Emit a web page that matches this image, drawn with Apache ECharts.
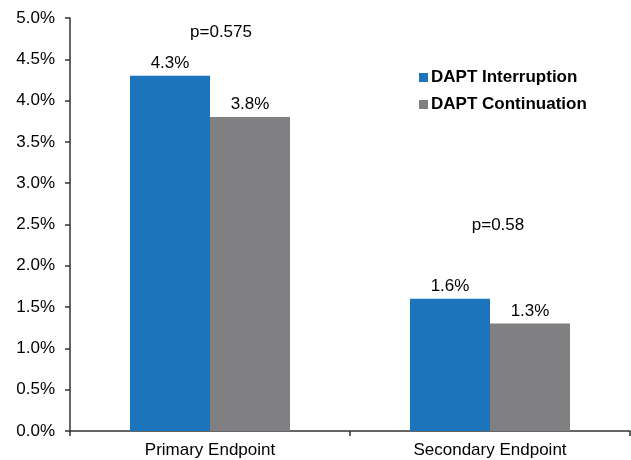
<!DOCTYPE html>
<html><head><meta charset="utf-8">
<script src="https://cdn.jsdelivr.net/npm/echarts@6/dist/echarts.min.js"></script>
<style>html,body{margin:0;padding:0;background:#fff}#c{width:631px;height:460px}</style>
</head><body><div id="c"></div>
<script>
var categories = ['Primary Endpoint', 'Secondary Endpoint'];
var interruption = [4.3, 1.6];
var continuation = [3.8, 1.3];
var pLabels = ['p=0.575', 'p=0.58'];
var pLabelY = [4.83, 2.49];
var yTicks = [0, 0.5, 1, 1.5, 2, 2.5, 3, 3.5, 4, 4.5, 5];

var font = 'Liberation Sans, Arial, sans-serif';
var chart = echarts.init(document.getElementById('c'));
chart.setOption({
  animation: false,
  grid: {left: 70, right: 1, top: 18, bottom: 29, containLabel: false},
  legend: {
    data: ['DAPT Interruption', 'DAPT Continuation'],
    orient: 'vertical', left: 414, top: 64,
    itemWidth: 9, itemHeight: 9, itemGap: 10, icon: 'rect',
    textStyle: {fontFamily: font, fontSize: 17, fontWeight: 'bold', color: '#000', padding: [0,0,0,-2]}
  },
  xAxis: {
    type: 'category', data: categories,
    axisLine: {lineStyle: {color: '#333', width: 1.5}},
    axisTick: {show: true, length: 5, lineStyle: {color: '#333', width: 1.5}},
    axisLabel: {fontFamily: font, fontSize: 17, color: '#000', margin: 11}
  },
  yAxis: {
    type: 'value', min: 0, max: 5, interval: 0.5,
    splitLine: {show: false},
    axisLine: {show: true, lineStyle: {color: '#333', width: 1.5}},
    axisTick: {show: true, length: 5, lineStyle: {color: '#333', width: 1.5}},
    axisLabel: {fontFamily: font, fontSize: 17, color: '#000', margin: 15,
      formatter: function(v){ return v.toFixed(1) + '%'; }}
  },
  series: [
    {name: 'DAPT Interruption', type: 'bar', data: interruption, barWidth: 80, barGap: '0%',
      itemStyle: {color: '#1c75bc'},
      label: {show: true, position: 'top', distance: 4, fontFamily: font, fontSize: 17, color: '#000',
        formatter: function(p){ return p.value.toFixed(1) + '%'; }}},
    {name: 'DAPT Continuation', type: 'bar', data: continuation, barWidth: 80,
      itemStyle: {color: '#808083'},
      label: {show: true, position: 'top', distance: 4, fontFamily: font, fontSize: 17, color: '#000',
        formatter: function(p){ return p.value.toFixed(1) + '%'; }}},
    {name: 'p', type: 'scatter', symbolSize: 0, silent: true,
      itemStyle: {opacity: 1},
      data: categories.map(function(c, i){ return {value: [c, pLabelY[i]], label: {formatter: pLabels[i], offset: [i === 0 ? 11 : 8, 0]}}; }),
      label: {show: true, position: 'inside', fontFamily: font, fontSize: 17, color: '#000'}}
  ]
});
</script></body></html>
